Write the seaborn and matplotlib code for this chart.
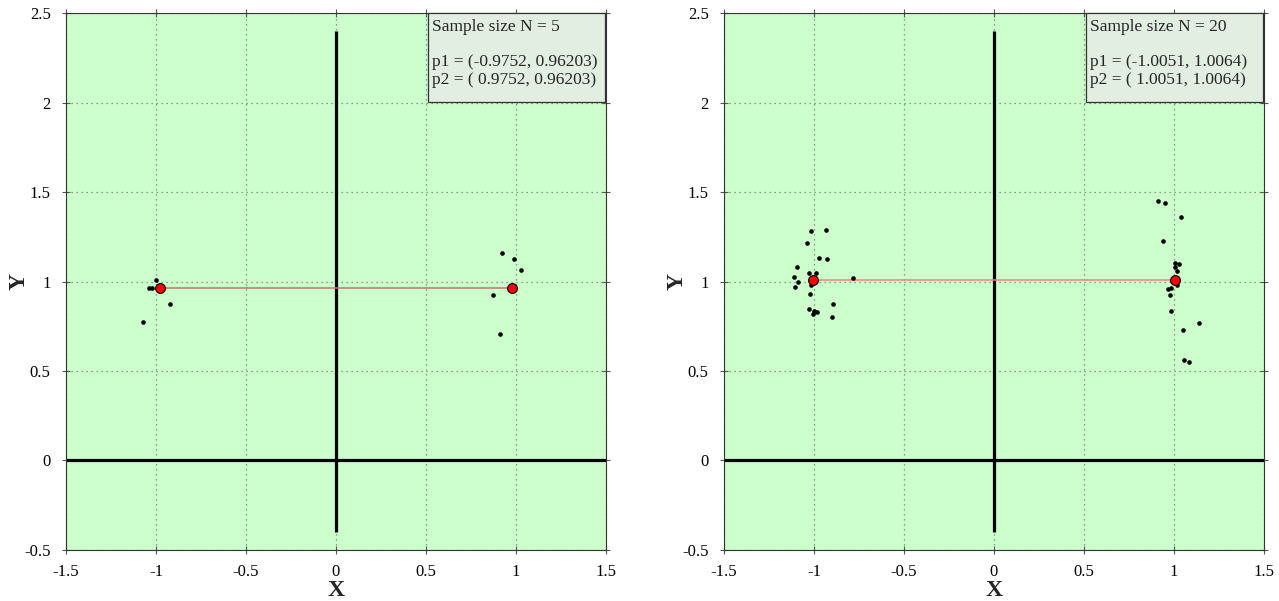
import matplotlib
matplotlib.use("Agg")
import matplotlib.pyplot as plt
from matplotlib.patches import Rectangle
import seaborn as sns
import pandas as pd

sns.set_theme(style="ticks")
plt.rcParams["font.family"] = ["Liberation Serif", "DejaVu Serif"]

# Data

# panel 1: N = 5
left_x_a = [-1.002, -1.040, -1.022, -0.924, -1.072]
left_y_a = [1.007, 0.965, 0.965, 0.875, 0.775]
left_x_b = [0.920, 0.990, 1.026, 0.870, 0.909]
left_y_b = [1.160, 1.125, 1.067, 0.925, 0.708]
left_p1 = (-0.9752, 0.96203)
left_p2 = (0.9752, 0.96203)

# panel 2: N = 20
right_x_a = [-1.015, -0.933, -1.041, -0.974, -0.930, -1.096, -1.026, -0.991, -1.109, -1.091,
             -0.782, -1.104, -1.015, -1.022, -0.894, -0.898, -1.029, -1.000, -0.983, -1.007]
right_y_a = [1.281, 1.289, 1.218, 1.132, 1.128, 1.082, 1.048, 1.048, 1.024, 1.000,
             1.018, 0.972, 0.981, 0.929, 0.875, 0.804, 0.847, 0.834, 0.832, 0.819]
right_x_b = [0.913, 0.948, 1.041, 0.937, 1.006, 1.026, 1.006, 1.015, 1.018, 0.983,
             0.965, 0.978, 0.983, 1.139, 1.048, 1.054, 1.085, 1.000, 1.012, 0.995]
right_y_b = [1.453, 1.440, 1.363, 1.225, 1.101, 1.097, 1.082, 1.058, 0.983, 0.965,
             0.957, 0.925, 0.836, 0.769, 0.730, 0.563, 0.549, 1.012, 0.995, 1.000]
right_p1 = (-1.0051, 1.0064)
right_p2 = (1.0051, 1.0064)

x_ticks = [-1.5, -1, -0.5, 0, 0.5, 1, 1.5]
y_ticks = [-0.5, 0, 0.5, 1, 1.5, 2, 2.5]

panels = [
    (5, left_x_a + left_x_b, left_y_a + left_y_b, left_p1, left_p2, "#c07868"),
    (20, right_x_a + right_x_b, right_y_a + right_y_b, right_p1, right_p2, "#f08080"),
]

fig = plt.figure(figsize=(12.79, 6.01), dpi=100)
positions = [[0.0516, 0.085, 0.4222, 0.893], [0.566, 0.085, 0.4222, 0.893]]

for pos, (n, xs, ys, p1, p2, lc) in zip(positions, panels):
    ax = fig.add_axes(pos)
    ax.set_facecolor("#ccffcc")
    ax.set_xlim(-1.5, 1.5)
    ax.set_ylim(-0.5, 2.5)
    ax.set_xticks(x_ticks)
    ax.set_yticks(y_ticks)
    ax.set_xticklabels(["-1.5", "-1", "-0.5", "0", "0.5", "1", "1.5"])
    ax.set_yticklabels(["-0.5", "0", "0.5", "1", "1.5", "2", "2.5"])
    ax.grid(True, linestyle=(0, (1, 3)), color="#668866", linewidth=0.9)
    ax.set_axisbelow(True)
    ax.tick_params(direction="inout", length=6, width=0.8, color="#555555",
                   labelsize=12, top=True, right=True, labelcolor="black")
    ax.tick_params(axis="x", pad=7)
    ax.tick_params(axis="y", pad=8)
    for s in ax.spines.values():
        s.set_color("#333333")
        s.set_linewidth(0.8)

    # axes cross
    ax.plot([-1.5, 1.5], [0, 0], color="black", lw=2.3, zorder=2, solid_capstyle="butt")
    ax.plot([0, 0], [-0.4, 2.4], color="black", lw=2.3, zorder=2, solid_capstyle="butt")

    # line between centres
    ax.plot([p1[0], p2[0]], [p1[1], p2[1]], color=lc, lw=1.1, zorder=3)

    df = pd.DataFrame({"x": xs, "y": ys})
    sns.scatterplot(data=df, x="x", y="y", ax=ax, color="black", s=11,
                    edgecolor="black", linewidth=0, zorder=4)
    cdf = pd.DataFrame({"x": [p1[0], p2[0]], "y": [p1[1], p2[1]]})
    sns.scatterplot(data=cdf, x="x", y="y", ax=ax, color="red", s=50,
                    edgecolor="black", linewidth=0.8, zorder=5)

    ax.set_xlabel("X", fontsize=17, fontweight="bold", labelpad=0)
    ax.set_ylabel("Y", fontsize=17, fontweight="bold")
    ax.yaxis.set_label_coords(-0.068, 0.5)

    ax.add_patch(Rectangle((0.670, 0.834), 0.328, 0.166, transform=ax.transAxes,
                           facecolor="#e2eee2", edgecolor="#333333", linewidth=0.9,
                           zorder=6, clip_on=False))
    txt = (f"Sample size N = {n}\n\n"
           f"p1 = ({p1[0]:.5g}, {p1[1]:.5g})\n"
           f"p2 = ( {p2[0]:.5g}, {p2[1]:.5g})")
    ax.text(0.678, 0.99, txt, transform=ax.transAxes, fontsize=12.5,
            va="top", ha="left", linespacing=1.15, zorder=7)

fig.savefig("out.png", dpi=100)
